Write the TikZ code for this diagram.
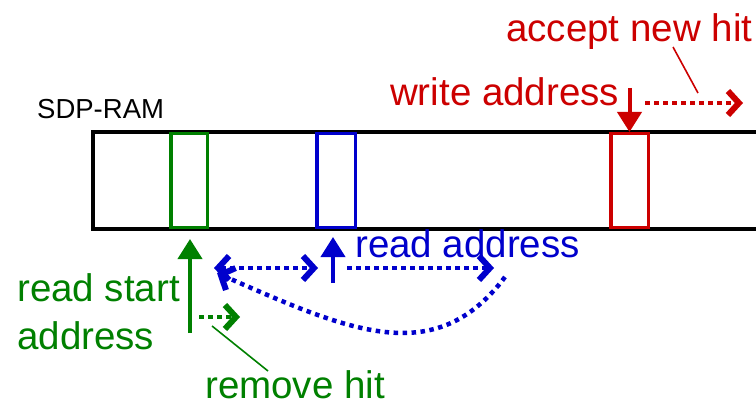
\documentclass[tikz,border=0pt]{standalone}
\usepackage{fontspec}
\setmainfont{Liberation Sans}
\usetikzlibrary{arrows.meta}
\definecolor{hitgreen}{RGB}{0,128,0}
\definecolor{hitblue}{RGB}{0,0,204}
\definecolor{hitred}{RGB}{204,0,0}
\tikzset{barb/.tip={Straight Barb[length=11pt,width=24pt,line width=6pt]}}
\begin{document}
\begin{tikzpicture}[x=1pt,y=-1pt,
  lbl/.style={inner sep=0pt, anchor=base west, font=\fontsize{38.5}{46}\selectfont},
  title/.style={inner sep=0pt, anchor=base west, font=\fontsize{27.5}{33}\selectfont},
  slot/.style={draw, line width=3.5pt, minimum height=93.5pt, inner sep=0pt},
  ptr/.style={line width=4pt, -{Triangle[length=20pt,width=24pt]}},
  move/.style={line width=4.5pt, dash pattern=on 4.5pt off 4.5pt, -barb},
  lead/.style={line width=1.6pt}]
\clip (0,0) rectangle (756,404);

% memory block
\draw[line width=4pt] (93,132) rectangle (790,229);
\node[title] (ram) at (37,119) {SDP-RAM};

% current slots
\node[slot, hitgreen, minimum width=36.5pt] (g) at (189,180.5) {};
\node[slot, hitblue,  minimum width=38.5pt] (b) at (336,180.5) {};
\node[slot, hitred,   minimum width=37.5pt] (r) at (629.5,180.5) {};

% write side
\node[lbl, hitred] (acc) at (506,42) {accept new hit};
\node[lbl, hitred] (wr) at (390,106) {write address};
\coordinate (wtail) at (629.5,88);
\draw[ptr, hitred] (wtail) -- (r.north);
\coordinate (wa) at (645,103);
\coordinate (wb) at (743,103);
\draw[move, hitred] (wa) -- (wb);
\coordinate (acclead) at (673,47);
\coordinate (accend) at (698,93);
\draw[lead, hitred] (acclead) -- (accend);

% read start side
\node[lbl, hitgreen] (rs1) at (17,301) {read start};
\node[lbl, hitgreen] (rs2) at (17,349) {address};
\coordinate (gtail) at (190,333);
\coordinate (gtip) at (190,239);
\draw[ptr, hitgreen] (gtail) -- (gtip);
\coordinate (ga) at (199,317);
\coordinate (gb) at (240,317);
\draw[move, hitgreen] (ga) -- (gb);
\node[lbl, hitgreen] (rm) at (205,398) {remove hit};
\coordinate (rmlead) at (212,326);
\coordinate (rmend) at (268,371);
\draw[lead, hitgreen] (rmlead) -- (rmend);

% read side
\node[lbl, hitblue] (rd) at (355,257) {read address};
\coordinate (btail) at (333,283);
\coordinate (btip) at (333,237);
\draw[ptr, hitblue] (btail) -- (btip);
\coordinate (ba) at (214,268);
\coordinate (bb) at (318,268);
\draw[move, hitblue, barb-barb] (ba) -- (bb);
\coordinate (bc) at (347,268);
\coordinate (bd) at (494,268);
\draw[move, hitblue] (bc) -- (bd);
\coordinate (bs) at (505,277);
\coordinate (be) at (217,273);
\draw[move, hitblue] (bs) .. controls (435,370) and (349,331) .. (be);
\end{tikzpicture}
\end{document}
